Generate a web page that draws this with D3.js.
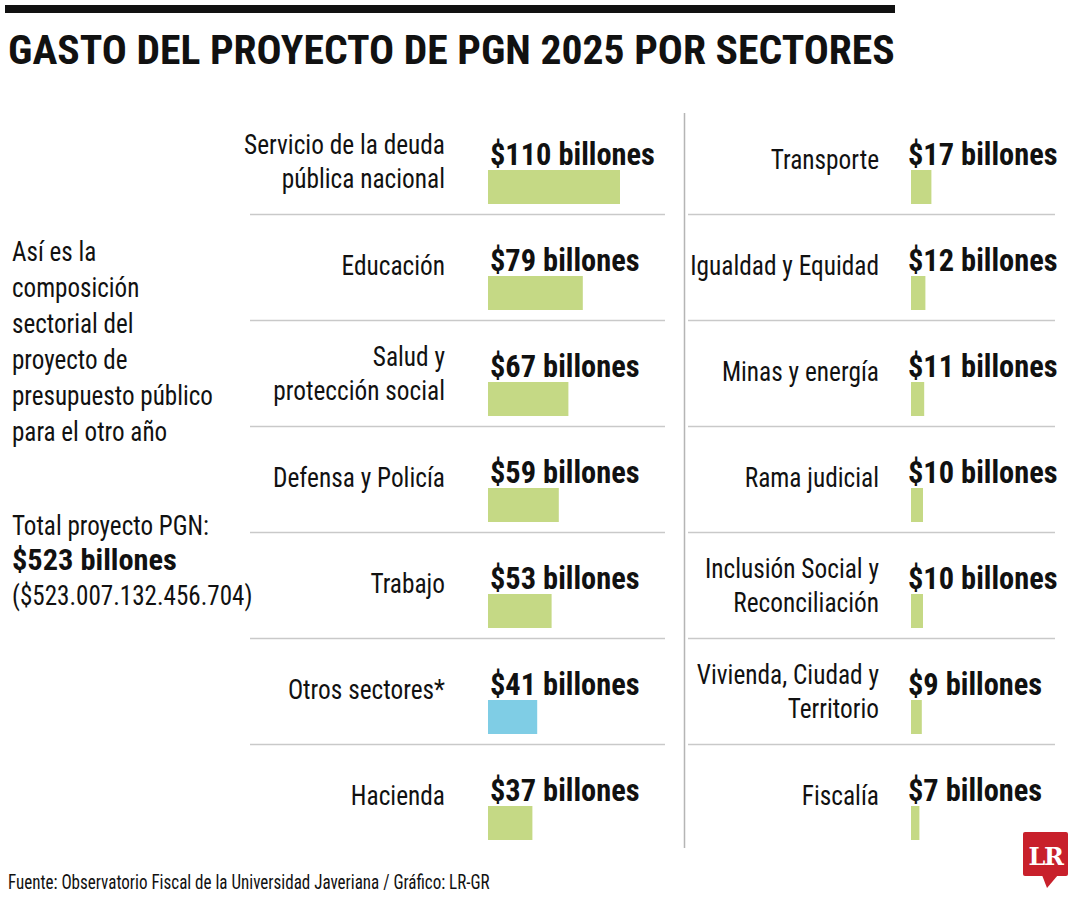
<!DOCTYPE html>
<html><head><meta charset="utf-8">
<script src="https://cdn.jsdelivr.net/npm/d3@7"></script>
<style>
html,body{margin:0;padding:0;background:#fff;}
svg{display:block;}
</style></head>
<body>
<script>
const title = "GASTO DEL PROYECTO DE PGN 2025 POR SECTORES";
const leftCategories = ["Servicio de la deuda\npública nacional", "Educación", "Salud y\nprotección social", "Defensa y Policía", "Trabajo", "Otros sectores*", "Hacienda"];
const leftValues = [110, 79, 67, 59, 53, 41, 37];
const rightCategories = ["Transporte", "Igualdad y Equidad", "Minas y energía", "Rama judicial", "Inclusión Social y\nReconciliación", "Vivienda, Ciudad y\nTerritorio", "Fiscalía"];
const rightValues = [17, 12, 11, 10, 10, 9, 7];
const highlighted = ["Otros sectores*"];
const unit = "billones";
const sideText = ["Así es la", "composición", "sectorial del", "proyecto de", "presupuesto público", "para el otro año"];
const totalLabel = "Total proyecto PGN:";
const totalValue = "$523 billones";
const totalExact = "($523.007.132.456.704)";
const source = "Fuente: Observatorio Fiscal de la Universidad Javeriana / Gráfico: LR-GR";

const W = 1080, H = 900;
const FAM = "'Liberation Sans Narrow','Roboto Condensed',Roboto,'Noto Sans',sans-serif";
const svg = d3.select("body").append("svg").attr("width", W).attr("height", H);

// style calibration (condense to match reference widths)
const styles = {
  title: {size: 41, weight: 700, ref: title, w: 887},
  label: {size: 28, weight: 400, ref: "Servicio de la deuda", w: 201},
  value: {size: 31, weight: 700, ref: "$110 billones", w: 165},
  side:  {size: 28, weight: 400, ref: "presupuesto público", w: 201},
  sideB: {size: 30, weight: 700, ref: "$523 billones", w: 165},
  foot:  {size: 21, weight: 400, ref: source, w: 482}
};
const probe = svg.append("text").attr("font-family", FAM);
for (const k in styles) {
  const s = styles[k];
  probe.attr("font-size", s.size).attr("font-weight", s.weight).text(s.ref);
  s.sx = s.w / probe.node().getComputedTextLength();
}
probe.remove();

function txt(parent, x, y, str, st, anchor = "start", fill = "#111") {
  const s = styles[st];
  const g = parent.append("g").attr("transform", `translate(${x},${y}) scale(${s.sx},1)`);
  g.append("text").attr("text-anchor", anchor).attr("font-family", FAM)
    .attr("font-size", s.size).attr("font-weight", s.weight).attr("fill", fill).text(str);
  return g;
}

// top rule + title
svg.append("rect").attr("x", 5).attr("y", 5).attr("width", 890).attr("height", 8).attr("fill", "#111");
txt(svg, 8, 64, title, "title");

// scales
const x = d3.scaleLinear().domain([0, 110]).range([0, 132]);
const y = d3.scaleBand().domain(d3.range(7)).range([108, 850]).padding(0);
const GREEN = "#c5d985", BLUE = "#7fcde5";

function panel(cats, vals, cfg) {
  const g = svg.append("g");
  // separators
  g.selectAll("line.sep").data(d3.range(6)).join("line")
    .attr("x1", cfg.sepX1).attr("x2", cfg.sepX2)
    .attr("y1", i => y(i) + y.bandwidth() + 0.5).attr("y2", i => y(i) + y.bandwidth() + 0.5)
    .attr("stroke", "#c9c9c9").attr("stroke-width", 1.5);
  cats.forEach((c, i) => {
    const top = y(i);
    const lines = c.split("\n");
    if (lines.length === 1) {
      txt(g, cfg.labelX, top + 61, lines[0], "label", "end");
    } else {
      txt(g, cfg.labelX, top + 46, lines[0], "label", "end");
      txt(g, cfg.labelX, top + 80, lines[1], "label", "end");
    }
    txt(g, cfg.valueX, top + 57, `$${vals[i]} ${unit}`, "value");
  });
  g.selectAll("rect.bar").data(vals).join("rect")
    .attr("x", cfg.barX).attr("y", (d, i) => y(i) + 62)
    .attr("width", d => x(d)).attr("height", 34)
    .attr("fill", (d, i) => highlighted.includes(cats[i]) ? BLUE : GREEN);
}
panel(leftCategories, leftValues, {labelX: 445, valueX: 490, barX: 488, sepX1: 250, sepX2: 665});
panel(rightCategories, rightValues, {labelX: 879, valueX: 908, barX: 911, sepX1: 688, sepX2: 1055});

// divider
svg.append("line").attr("x1", 684.5).attr("x2", 684.5).attr("y1", 113).attr("y2", 848)
  .attr("stroke", "#b5b5b5").attr("stroke-width", 1.5);

// side text
sideText.forEach((t, i) => txt(svg, 12, 261 + i * 36, t, "side"));
txt(svg, 12, 535, totalLabel, "side");
txt(svg, 12, 570, totalValue, "sideB");
txt(svg, 12, 605, totalExact, "side");

// footer
txt(svg, 8, 889, source, "foot");

// LR logo
const logo = svg.append("g");
logo.append("rect").attr("x", 1023).attr("y", 832).attr("width", 45).attr("height", 44).attr("rx", 2).attr("fill", "#c8202b");
logo.append("path").attr("d", "M1042,875 L1058,875 L1047,888 Z").attr("fill", "#c8202b");
logo.append("text").attr("x", 1045.5).attr("y", 865).attr("text-anchor", "middle")
  .attr("font-family", "'DejaVu Serif','Liberation Serif',serif").attr("font-weight", 700)
  .attr("font-size", 24).attr("fill", "#fff").attr("letter-spacing", -1.5).text("LR");
</script>
</body></html>
